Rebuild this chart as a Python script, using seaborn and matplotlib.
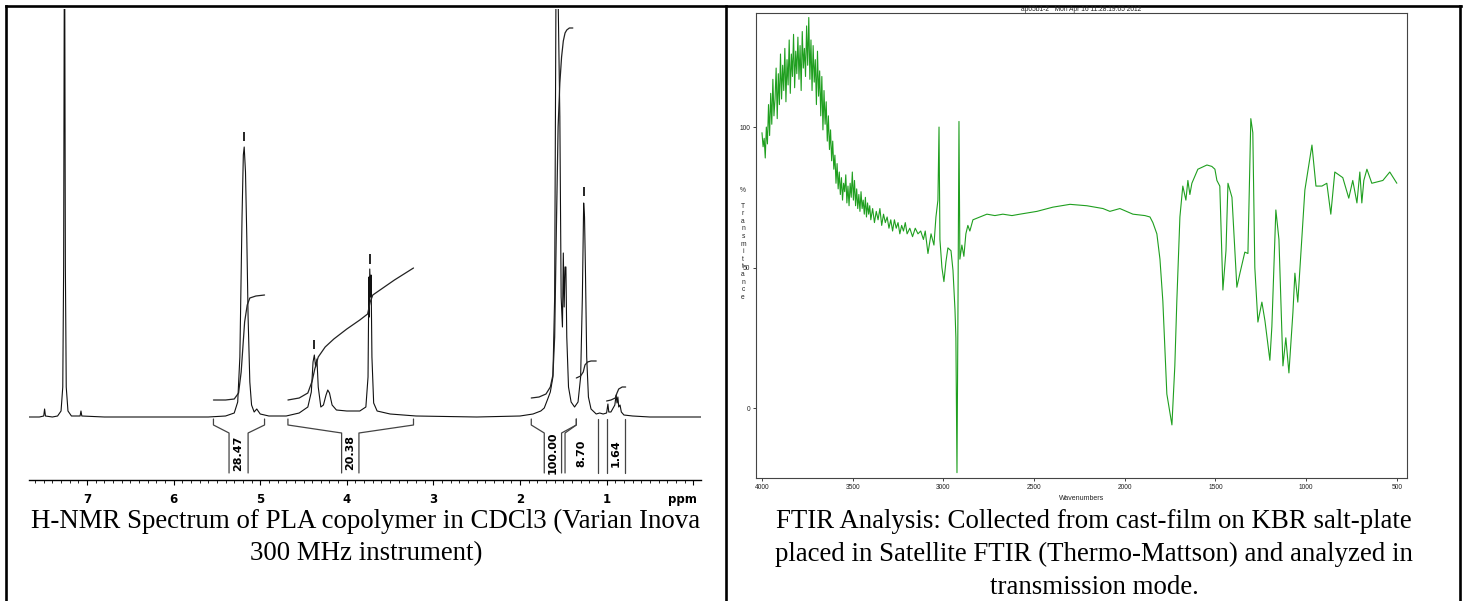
import matplotlib
matplotlib.use("Agg")
import matplotlib.pyplot as plt
from matplotlib.ticker import MultipleLocator
import seaborn as sns

sns.set_style("white")
plt.rcParams['font.family'] = ['Liberation Sans', 'DejaVu Sans']
plt.rcParams['text.color'] = 'black'
plt.rcParams['axes.labelcolor'] = 'black'
plt.rcParams['xtick.color'] = 'black'
plt.rcParams['ytick.color'] = 'black'

# ---------------- H-NMR spectrum (ppm, intensity above baseline) ----------------
nmr_ppm = [7.67, 7.55, 7.50, 7.49, 7.48, 7.40, 7.34, 7.30, 7.28, 7.27, 7.263, 7.257, 7.25, 7.24, 7.22, 7.18,
           7.08, 7.07, 7.06, 6.80, 6.20, 5.60, 5.40, 5.30, 5.26, 5.235, 5.21, 5.195, 5.185, 5.17, 5.155, 5.14,
           5.12, 5.10, 5.07, 5.04, 5.00, 4.90, 4.70, 4.55, 4.45, 4.41, 4.39, 4.375, 4.36, 4.345, 4.33, 4.30,
           4.27, 4.24, 4.22, 4.20, 4.17, 4.12, 4.00, 3.85, 3.78, 3.755, 3.745, 3.74, 3.735, 3.725, 3.72, 3.71,
           3.69, 3.65, 3.50, 3.20, 2.50, 2.00, 1.85, 1.76, 1.72, 1.68, 1.65, 1.62, 1.60, 1.585, 1.56, 1.54,
           1.525, 1.51, 1.50, 1.49, 1.48, 1.47, 1.46, 1.44, 1.41, 1.37, 1.33, 1.30, 1.28, 1.265, 1.255, 1.245,
           1.23, 1.21, 1.18, 1.12, 1.08, 1.04, 1.00, 0.985, 0.975, 0.95, 0.905, 0.89, 0.88, 0.87, 0.86, 0.845,
           0.83, 0.80, 0.70, 0.50, -0.09]
nmr_int = [0, 0, 1, 8, 1, 0, 1, 6, 30, 150, 420, 420, 150, 30, 6, 1,
           1, 6, 1, 0, 0, 0, 1, 4, 15, 60, 200, 262, 270, 245, 180, 100,
           35, 12, 5, 8, 3, 1, 1, 4, 10, 25, 55, 62, 50, 58, 30, 10,
           12, 22, 27, 24, 12, 7, 6, 6, 10, 40, 140, 100, 148, 120, 142, 60,
           14, 6, 3, 1, 0, 1, 3, 6, 9, 18, 25, 40, 120, 420, 420, 300,
           120, 90, 164, 110, 150, 150, 80, 30, 15, 10, 15, 40, 120, 214, 200, 150,
           60, 20, 8, 3, 4, 3, 4, 13, 5, 5, 12, 22, 14, 20, 10, 12,
           5, 2, 1, 0, 0]

# peak-pick markers (ppm, bottom, top)
pick_ppm = [5.185, 4.375, 3.735, 1.265]
pick_lo = [276, 68, 153, 221]
pick_hi = [285, 77, 163, 230]

# integral traces
int1_ppm = [5.54, 5.40, 5.30, 5.25, 5.22, 5.20, 5.18, 5.15, 5.12, 5.05, 4.95]
int1_val = [17, 17, 18, 24, 45, 70, 95, 112, 119, 121, 122]
int2_ppm = [4.68, 4.55, 4.45, 4.40, 4.37, 4.33, 4.25, 4.15, 4.00, 3.85, 3.76, 3.73, 3.70, 3.60, 3.45, 3.23]
int2_val = [17, 19, 24, 36, 48, 60, 70, 78, 88, 97, 103, 115, 122, 128, 137, 149]
int3_ppm = [1.87, 1.78, 1.70, 1.65, 1.62, 1.60, 1.58, 1.56, 1.54, 1.52, 1.50, 1.48, 1.46, 1.43, 1.39]
int3_val = [19, 20, 23, 30, 42, 80, 190, 290, 334, 360, 376, 384, 387, 389, 389]
int4_ppm = [1.35, 1.30, 1.27, 1.25, 1.22, 1.18, 1.12]
int4_val = [39, 41, 45, 52, 55, 56, 56]
int5_ppm = [1.00, 0.95, 0.90, 0.88, 0.86, 0.82, 0.78]
int5_val = [16, 17, 19, 24, 28, 30, 30]

# integration brackets
br_outer_l = [5.54, 4.68, 1.87, 1.35, 1.00]
br_outer_r = [4.95, 3.23, 1.35, 1.10, 0.79]
br_inner_l = [5.36, 4.06, 1.72, 1.48, 1.00]
br_inner_r = [5.14, 3.86, 1.52, 1.10, 0.79]
br_labels = ["28.47", "20.38", "100.00", "8.70", "1.64"]

nmr_ticks = [7, 6, 5, 4, 3, 2, 1, 0]
nmr_ticklabels = ["7", "6", "5", "4", "3", "2", "1", ""]

# ---------------- FTIR spectrum (wavenumber, %T) ----------------
ftir_wn = [4000, 3994, 3988, 3982, 3976, 3970, 3964, 3958, 3952, 3946, 3940, 3934, 3928, 3922, 3916, 3910,
           3904, 3898, 3892, 3886, 3880, 3874, 3868, 3862, 3856, 3850, 3844, 3838, 3832, 3826, 3820, 3814,
           3808, 3802, 3796, 3790, 3784, 3778, 3772, 3766, 3760, 3754, 3748, 3742, 3736, 3730, 3724, 3718,
           3712, 3706, 3700, 3694, 3688, 3682, 3676, 3670, 3664, 3658, 3652, 3646, 3640, 3634, 3628, 3622,
           3616, 3610, 3604, 3598, 3592, 3586, 3580, 3574, 3568, 3562, 3556, 3550, 3544, 3538, 3532, 3526,
           3520, 3514, 3508, 3502, 3496, 3490, 3484, 3478, 3472, 3466, 3460, 3454, 3448, 3442, 3436, 3430,
           3424, 3418, 3412, 3406, 3400, 3390, 3380, 3370, 3360, 3350, 3340, 3330, 3320, 3310, 3300, 3290,
           3280, 3270, 3260, 3250, 3240, 3230, 3220, 3210, 3200, 3185, 3170, 3155, 3140, 3125, 3110, 3100,
           3085, 3068, 3052, 3041, 3030, 3024, 3019, 3008, 2997, 2986,
           2975, 2958, 2947, 2936, 2931, 2925, 2920, 2914, 2909, 2898, 2887, 2876, 2865, 2854, 2837, 2798,
           2760, 2716, 2672, 2622, 2578, 2484, 2396, 2302, 2209, 2120, 2082, 2027, 1955, 1889, 1861, 1845,
           1823, 1806, 1790, 1768, 1740, 1724, 1713, 1696, 1680, 1663, 1652, 1641, 1630, 1597, 1547, 1520,
           1503, 1492, 1476, 1459, 1442, 1431, 1409, 1382, 1365, 1338, 1321, 1305, 1294, 1283, 1266, 1244,
           1227, 1200, 1189, 1167, 1150, 1128, 1112, 1095, 1073, 1062, 1046, 1024, 1007, 968, 946, 913,
           886, 864, 842, 798, 765, 743, 720, 704, 693, 682, 665, 638, 577, 539, 500]
ftir_T = [98, 93, 96, 89, 100, 94, 108, 97, 112, 101, 117, 104, 110, 121, 103, 119,
          108, 126, 110, 122, 113, 128, 109, 124, 115, 131, 112, 126, 118, 133, 114, 127,
          119, 132, 117, 129, 113, 134, 121, 128, 118, 136, 122, 139, 117, 131, 113, 129,
          116, 124, 108, 127, 111, 120, 104, 118, 99, 113, 101, 109, 95, 104, 92, 99,
          88, 95, 85, 90, 80, 87, 78, 84, 76, 82, 74, 80, 77, 83, 73, 79,
          72, 80, 75, 84, 74, 81, 72, 78, 71, 76, 70, 77, 71, 74, 69, 75,
          68, 73, 69, 72, 67, 71, 66, 70, 67, 71, 65, 69, 66, 68, 64, 67,
          63, 67, 64, 66, 62, 65, 63, 66, 62, 64, 61, 64, 62, 63, 60, 63,
          55, 62, 58, 68, 74, 100, 60, 50, 45, 52,
          57, 56, 49, 35, 25, -23, 30, 102, 53, 58, 54, 62, 65, 63, 67, 68,
          69, 68.5, 69, 68.5, 69, 70, 71.5, 72.5, 72, 71, 70, 71, 69, 68.5, 68, 66,
          62, 53, 38, 5, -6, 15, 38, 68, 79, 74, 81, 76, 80, 85, 86.5, 86,
          85, 81, 79, 42, 56, 80, 75, 43, 48, 55.5, 55, 103, 98, 50, 30.6, 37.7,
          31, 17, 29, 70.5, 60, 15, 25, 12.5, 34, 48, 37.7, 60, 77.6, 93.6, 79, 79,
          80, 69, 84, 82, 74.7, 81, 73, 84, 73, 81, 85, 80, 81, 84, 80]

ftir_xticks = [4000, 3500, 3000, 2500, 2000, 1500, 1000, 500]
ftir_yticks = [0, 50, 100]
ftir_title = "ap05b1-2   Mon Apr 16 11:28:19:65 2012"
ftir_ylabel_chars = ["%", "", "T", "r", "a", "n", "s", "m", "i", "t", "t", "a", "n", "c", "e"]

cap_nmr = ["H-NMR Spectrum of PLA copolymer in CDCl3 (Varian Inova", "300 MHz instrument)"]
cap_ftir = ["FTIR Analysis: Collected from cast-film on KBR salt-plate",
            "placed in Satellite FTIR (Thermo-Mattson) and analyzed in",
            "transmission mode."]

# ---------------- layout ----------------
W, H = 1465, 601
fig = plt.figure(figsize=(W / 100, H / 100), dpi=100)
fig.patch.set_facecolor("white")


def rect(l, t, r, b):
    return [l / W, 1 - b / H, (r - l) / W, (b - t) / H]


bg = fig.add_axes([0, 0, 1, 1], zorder=0)
bg.set_xlim(0, W)
bg.set_ylim(H, 0)
bg.axis("off")
for xs, ys in [([6, 1461], [6, 6]), ([6, 6], [6, 601]), ([726, 726], [6, 601]), ([1460, 1460], [6, 601])]:
    bg.plot(xs, ys, color="black", lw=1.9, solid_capstyle="projecting")
for i, line in enumerate(cap_nmr):
    bg.text(366, 521 + 33 * i, line, ha="center", va="center", fontsize=19.4,
            family="Liberation Serif", color="black")
for i, line in enumerate(cap_ftir):
    bg.text(1094, 521 + 33 * i, line, ha="center", va="center", fontsize=19.4,
            family="Liberation Serif", color="black")

# ---------------- NMR panel ----------------
ax1 = fig.add_axes(rect(29, 9, 701, 480), zorder=2)
ax1.patch.set_alpha(0)
sns.lineplot(x=nmr_ppm, y=nmr_int, estimator=None, sort=False, color="#111111", lw=0.8, ax=ax1)
ax1.vlines(pick_ppm, pick_lo, pick_hi, color="black", lw=1.2)
for xp, yv in [(int1_ppm, int1_val), (int2_ppm, int2_val), (int3_ppm, int3_val),
               (int4_ppm, int4_val), (int5_ppm, int5_val)]:
    sns.lineplot(x=xp, y=yv, estimator=None, sort=False, color="#222222", lw=0.9, ax=ax1)
for ol, orr, il, ir, lab in zip(br_outer_l, br_outer_r, br_inner_l, br_inner_r, br_labels):
    for o, inn in [(ol, il), (orr, ir)]:
        if abs(o - inn) < 1e-6:
            ax1.plot([o, o], [-2, -56], color="#444444", lw=0.9)
        else:
            ax1.plot([o, o, inn, inn], [-2, -8, -16, -56], color="#444444", lw=0.9)
    ax1.text((il + ir) / 2, -36, lab, rotation=90, ha="center", va="center",
             fontsize=8, fontweight="bold", family="DejaVu Sans", color="black")
ax1.set_xlim(7.67, -0.09)
ax1.set_ylim(-63, 408)
for s in ["left", "top", "right"]:
    ax1.spines[s].set_visible(False)
ax1.spines["bottom"].set_color("black")
ax1.spines["bottom"].set_linewidth(1.0)
ax1.set_yticks([])
ax1.set_xticks(nmr_ticks)
ax1.set_xticklabels(nmr_ticklabels, fontsize=8.5, fontweight="bold", family="DejaVu Sans")
ax1.xaxis.set_minor_locator(MultipleLocator(0.1))
ax1.tick_params(axis="x", which="major", direction="out", length=3.6, width=0.8, pad=6.0, bottom=True)
ax1.tick_params(axis="x", which="minor", direction="out", length=1.8, width=0.6, bottom=True)
ax1.set_xlabel("ppm", fontsize=8.5, fontweight="bold", family="DejaVu Sans")
ax1.xaxis.set_label_coords((682 - 29) / 672, (480 - 499) / 471)
ax1.xaxis.label.set_va("center")
ax1.set_ylabel("")

# ---------------- FTIR panel ----------------
ax2 = fig.add_axes(rect(756, 13, 1407, 478), zorder=2)
ax2.set_facecolor("white")
sns.lineplot(x=ftir_wn, y=ftir_T, estimator=None, sort=False, color="#1f9f1f", lw=0.8, ax=ax2)
ax2.set_xlim(4033, 444)
ax2.set_ylim(-24.9, 140.6)
for s in ax2.spines.values():
    s.set_color("#444444")
    s.set_linewidth(0.8)
ax2.set_xticks(ftir_xticks)
ax2.set_xticklabels([str(v) for v in ftir_xticks])
ax2.set_yticks(ftir_yticks)
ax2.set_yticklabels([str(v) for v in ftir_yticks])
ax2.tick_params(axis="both", which="major", direction="out", length=2.2, width=0.6, labelsize=4.8,
                pad=1.8, colors="#222222", bottom=True, left=True)
ax2.set_title(ftir_title, fontsize=4.8, pad=1.5, color="#222222")
ax2.set_xlabel("Wavenumbers", fontsize=5.0, color="#222222")
ax2.xaxis.set_label_coords(0.5, (478 - 499) / 465)
ax2.xaxis.label.set_va("center")
ax2.set_ylabel("\n".join(ftir_ylabel_chars), rotation=0, fontsize=4.8, linespacing=1.12,
               ha="center", va="center", color="#222222")
ax2.yaxis.set_label_coords((743 - 756) / 651, (478 - 244) / 465)

fig.savefig("out.png", dpi=100, facecolor="white")
